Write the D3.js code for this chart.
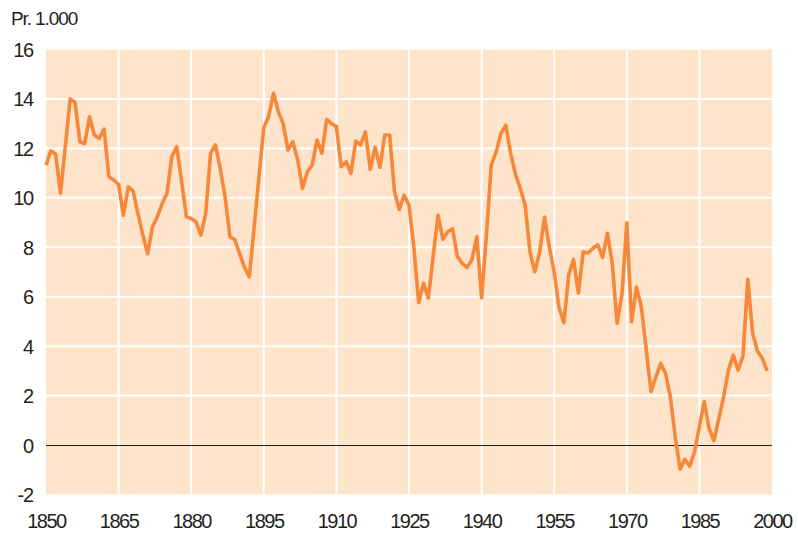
<!DOCTYPE html>
<html>
<head>
<meta charset="utf-8">
<script src="https://cdn.jsdelivr.net/npm/d3@7"></script>
<style>
  html, body { margin: 0; padding: 0; background: #ffffff; }
  svg { display: block; }
  text { font-family: "Liberation Sans", Arial, sans-serif; fill: #231f20; }
</style>
</head>
<body>
<svg id="chart" width="798" height="533"></svg>
<script>
// Years 1850..1999
const startYear = 1850;
const values = [
  11.32, 11.9, 11.76, 10.18, 12.1, 14.0, 13.86, 12.27, 12.2, 13.28,
  12.54, 12.4, 12.78, 10.85, 10.72, 10.54, 9.3, 10.45, 10.27, 9.36,
  8.5, 7.74, 8.82, 9.23, 9.77, 10.18, 11.66, 12.07, 10.7, 9.23,
  9.16, 9.03, 8.49, 9.36, 11.8, 12.14, 11.19, 10.04, 8.42, 8.31,
  7.74, 7.2, 6.8, 8.8, 10.85, 12.85, 13.28, 14.23, 13.49, 13.0,
  11.93, 12.27, 11.53, 10.38, 11.06, 11.33, 12.34, 11.8, 13.17, 13.0,
  12.88, 11.26, 11.46, 10.99, 12.3, 12.14, 12.67, 11.15, 12.04, 11.23,
  12.54, 12.54, 10.25, 9.53, 10.11, 9.71, 8.02, 5.76, 6.55, 5.95,
  7.65, 9.3, 8.32, 8.63, 8.75, 7.62, 7.35, 7.18, 7.5, 8.43,
  5.95, 8.5, 11.33, 11.85, 12.61, 12.94, 11.8, 10.95, 10.38, 9.71,
  7.8, 7.01, 7.8, 9.22, 8.0, 7.0, 5.55, 4.95, 6.88, 7.51,
  6.14, 7.82, 7.77, 7.96, 8.1, 7.59, 8.56, 7.35, 4.92, 6.1,
  8.99, 4.99, 6.39, 5.6, 3.9, 2.16, 2.75, 3.3, 2.9, 1.95,
  0.35, -0.98, -0.58, -0.85, -0.27, 0.75, 1.75, 0.67, 0.17, 1.05,
  1.95, 3.03, 3.64, 3.03, 3.6, 6.7, 4.52, 3.8, 3.5, 3.0
];
const years = values.map((v, i) => startYear + i);
const xTicks = [1850, 1865, 1880, 1895, 1910, 1925, 1940, 1955, 1970, 1985, 2000];
const yTicks = [-2, 0, 2, 4, 6, 8, 10, 12, 14, 16];
const unitLabel = "Pr. 1.000";

const data = years.map((yr, i) => ({ year: yr, value: values[i] }));

const svg = d3.select("#chart");
const plotLeft = 46, plotRight = 772, plotTop = 49.5, plotBottom = 494.5;

const x = d3.scaleLinear().domain([1850, 2000]).range([plotLeft, plotRight]);
const y = d3.scaleLinear().domain([-2, 16]).range([plotBottom, plotTop]);

// background
svg.append("rect")
  .attr("x", plotLeft).attr("y", plotTop)
  .attr("width", plotRight - plotLeft).attr("height", plotBottom - plotTop)
  .attr("fill", "#fde4cb");

// grid lines
const grid = svg.append("g");
grid.selectAll("line.h").data(yTicks.filter(t => t !== 0 && t !== -2 && t !== 16)).enter()
  .append("line")
  .attr("x1", plotLeft).attr("x2", plotRight)
  .attr("y1", d => y(d)).attr("y2", d => y(d))
  .attr("stroke", "#ffffff").attr("stroke-width", 2);
grid.selectAll("line.v").data(xTicks.filter(t => t !== 1850 && t !== 2000)).enter()
  .append("line")
  .attr("x1", d => x(d)).attr("x2", d => x(d))
  .attr("y1", plotTop).attr("y2", plotBottom)
  .attr("stroke", "#ffffff").attr("stroke-width", 2);

// zero line
svg.append("line")
  .attr("x1", plotLeft).attr("x2", plotRight)
  .attr("y1", Math.round(y(0)) + 0.5).attr("y2", Math.round(y(0)) + 0.5)
  .attr("stroke", "#231f20").attr("stroke-width", 1);

// y axis labels
const yAxis = d3.axisLeft(y).tickValues(yTicks).tickSize(0).tickPadding(0).tickFormat(d => d);
const gy = svg.append("g").attr("transform", "translate(33,0)").call(yAxis);
gy.select(".domain").remove();
gy.selectAll("text")
  .attr("font-size", 20).attr("letter-spacing", "-1.2px")
  .attr("font-family", "Liberation Sans, Arial, sans-serif")
  .attr("fill", "#231f20").attr("dy", "0.35em");

// x axis labels
const xAxis = d3.axisBottom(x).tickValues(xTicks).tickSize(0).tickPadding(0).tickFormat(d => d);
const gx = svg.append("g").attr("transform", "translate(0,514)").call(xAxis);
gx.select(".domain").remove();
gx.selectAll("text")
  .attr("font-size", 20).attr("letter-spacing", "-1.5px")
  .attr("font-family", "Liberation Sans, Arial, sans-serif")
  .attr("fill", "#231f20").attr("dy", "0.71em");

// unit label
svg.append("text")
  .attr("x", 11).attr("y", 25)
  .attr("font-size", 19).attr("letter-spacing", "-1.1px")
  .text(unitLabel);

// line
const line = d3.line().x(d => x(d.year)).y(d => y(d.value));
svg.append("path")
  .datum(data)
  .attr("d", line)
  .attr("fill", "none")
  .attr("stroke", "#f7883a")
  .attr("stroke-width", 3.6)
  .attr("stroke-linejoin", "round");
</script>
</body>
</html>
